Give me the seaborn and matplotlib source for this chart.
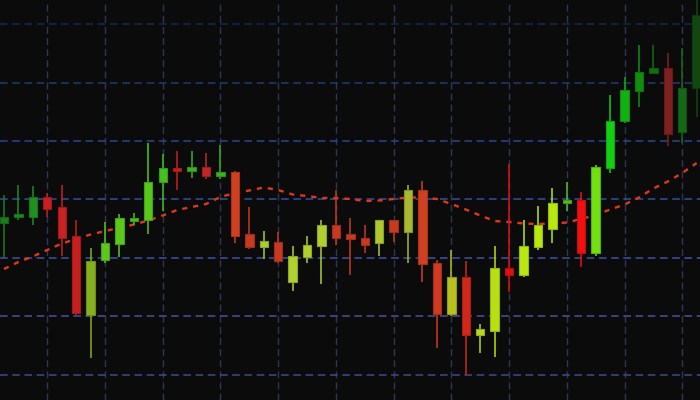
import numpy as np
import pandas as pd
import matplotlib
matplotlib.use("Agg")
import matplotlib.pyplot as plt
import seaborn as sns
from matplotlib.colors import to_rgb

# ---- data (price units) ----
opens = [177, 183, 183, 203, 193, 164, 85, 140, 156, 179, 180, 218, 232, 229, 233, 224,
         228, 166, 153, 158, 118, 143, 154, 175, 166, 162, 157, 180, 168, 210, 137, 86,
         123, 65, 69, 132, 125, 153, 171, 197, 200, 147, 232, 279, 309, 327, 332, 268, 312]
closes = [183, 186, 203, 191, 162, 87, 139, 157, 182, 182, 218, 232, 229, 233, 224, 228,
          164, 153, 159, 139, 144, 155, 175, 162, 161, 155, 180, 168, 210, 136, 86, 123,
          65, 71, 132, 125, 154, 175, 197, 200, 147, 233, 279, 310, 328, 332, 266, 312, 385]
highs = [205, 215, 214, 207, 215, 180, 152, 178, 186, 187, 257, 246, 249, 249, 247, 255,
         229, 193, 169, 168, 154, 164, 180, 210, 182, 175, 180, 180, 215, 219, 140, 150,
         139, 76, 154, 236, 180, 194, 212, 218, 208, 235, 305, 323, 355, 355, 347, 352, 400]
lows = [143, 180, 175, 183, 144, 85, 42, 137, 143, 175, 166, 189, 210, 222, 221, 221,
        157, 151, 141, 137, 109, 137, 116, 155, 125, 147, 144, 158, 137, 118, 52, 84,
        25, 47, 43, 108, 123, 150, 157, 189, 133, 144, 227, 277, 293, 327, 254, 257, 283]
moving_avg = [131, 138, 143.5, 150, 156.5, 161, 165.5, 169, 172, 175.5, 179.5, 184.5,
              190, 193, 196, 203, 207, 209.5, 212.5, 210, 205.5, 204, 202, 202, 201, 199,
              199.5, 201, 202.5, 202.5, 201, 196, 190.5, 184.5, 179, 178, 176.5, 176,
              176.5, 177.5, 181, 185, 190.5, 195.5, 202.5, 211.5, 218.5, 227, 237]
price_grid = [25, 84, 142, 201, 259, 317, 376]
time_grid = [3, 7, 11, 15, 19, 23, 27, 31, 35, 39, 43, 47]

# ---- style ----
candle_colors = [
    "#1a7f1a", "#1e8c1e", "#1f901f", "#c82020", "#c82222", "#c82020", "#86b020",
    "#5cc81c", "#5cc81c", "#4cc01c", "#58c818", "#44c020", "#c82020", "#40b020",
    "#c02828", "#40b020", "#d04020", "#c83a20", "#a8d030", "#c83a20", "#b0d030",
    "#b0d030", "#b0d030", "#c83a20", "#c83a20", "#c83a20", "#b0c830", "#c83a20",
    "#a8b830", "#d04020", "#d03a20", "#b8c020", "#d02818", "#b8d820", "#b8e010",
    "#e01010", "#b8e810", "#b8e810", "#b8e810", "#50c020", "#f01010", "#70e010",
    "#14d014", "#12b012", "#109010", "#107010", "#802020", "#186818", "#104810"]
hgrid_colors = ["#47468a", "#4e4e9c", "#3a55a8", "#3350a0", "#2a4690", "#1f3a72", "#19294a"]
vgrid_color = "#2a3856"

df = pd.DataFrame({"t": np.arange(len(opens)), "open": opens, "close": closes,
                   "high": highs, "low": lows, "ma": moving_avg})

sns.set_theme(style="dark")
bg = "#0b0b0b"
fig = plt.figure(figsize=(7, 4), dpi=100, facecolor=bg)
ax = fig.add_axes([0, 0, 1, 1])
ax.set_facecolor(bg)
ax.set_xticks([])
ax.set_yticks([])
for s in ax.spines.values():
    s.set_visible(False)

dash = (0, (5, 3))
for t in time_grid:
    ax.axvline(t, color=vgrid_color, linestyle=dash, linewidth=1.0, zorder=1)
for p, c in zip(price_grid, hgrid_colors):
    ax.axhline(p, color=c, linestyle=dash, linewidth=1.1, zorder=1)

# moving average (behind candles)
sns.lineplot(data=df, x="t", y="ma", ax=ax, color="#e0381a", linewidth=1.7,
             linestyle=(0, (2.2, 2.5)), zorder=2, legend=False)

# candles
def darker(c, f=0.8):
    r, g, b = to_rgb(c)
    return (r * f, g * f, b * f)

edge = [darker(c) for c in candle_colors]
ax.vlines(df["t"], df["low"], df["high"], colors=candle_colors, linewidth=1.1, zorder=3)
body_bottom = np.minimum(df["open"], df["close"])
body_h = np.maximum(np.abs(df["close"] - df["open"]), 2.5)
ax.bar(df["t"], body_h, bottom=body_bottom, width=0.58, color=candle_colors,
       edgecolor=edge, linewidth=0.8, zorder=4)

ax.set_xlim(-0.277, 48.23)
ax.set_ylim(0, 400)
ax.set_xlabel("")
ax.set_ylabel("")

fig.savefig("out.png", dpi=100, facecolor=bg)
